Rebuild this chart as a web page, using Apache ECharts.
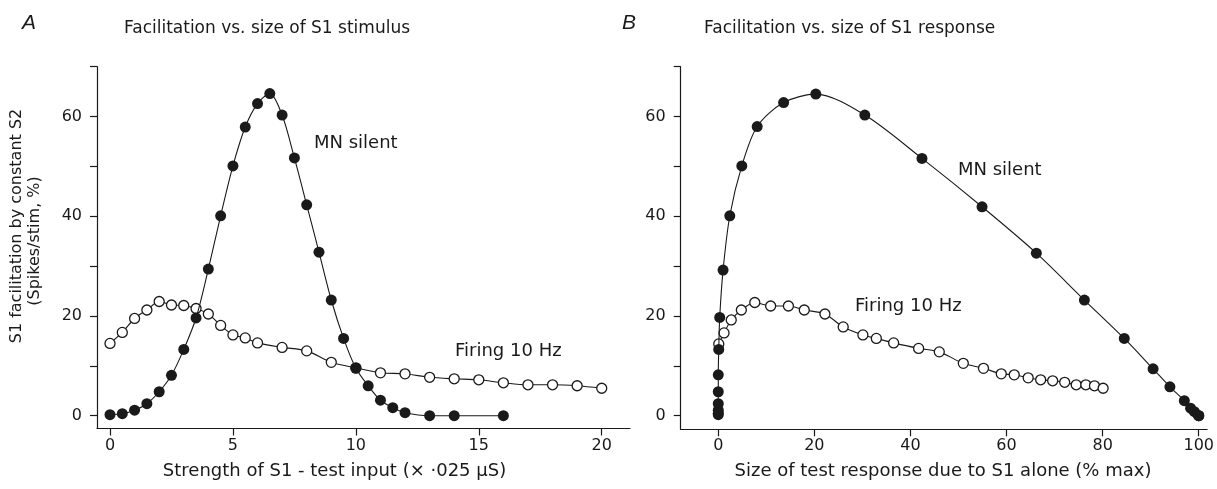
<!DOCTYPE html>
<html>
<head>
<meta charset="utf-8">
<script src="https://cdn.jsdelivr.net/npm/echarts@6/dist/echarts.min.js"></script>
<style>
  html, body { margin: 0; padding: 0; background: #fff; }
  #main { width: 1217px; height: 489px; }
</style>
</head>
<body>
<div id="main"></div>
<script>
// panel A: facilitation vs strength of S1 stimulus (x .025 uS)
var aSilentX = [0, 0.5, 1, 1.5, 2, 2.5, 3, 3.5, 4, 4.5, 5, 5.5, 6, 6.5, 7, 7.5, 8, 8.5, 9, 9.5, 10, 10.5, 11, 11.5, 12, 13, 14, 16];
var aSilentY = [0.2, 0.4, 1.1, 2.4, 4.8, 8.1, 13.3, 19.6, 29.4, 40.1, 50.1, 57.9, 62.6, 64.6, 60.3, 51.7, 42.3, 32.8, 23.2, 15.5, 9.5, 6.0, 3.1, 1.6, 0.6, 0, 0, 0];
var aFiringX = [0, 0.5, 1, 1.5, 2, 2.5, 3, 3.5, 4, 4.5, 5, 5.5, 6, 7, 8, 9, 10, 11, 12, 13, 14, 15, 16, 17, 18, 19, 20];
var aFiringY = [14.5, 16.7, 19.5, 21.2, 22.9, 22.2, 22.1, 21.5, 20.4, 18.1, 16.2, 15.6, 14.6, 13.7, 13.0, 10.7, 9.6, 8.6, 8.4, 7.7, 7.4, 7.2, 6.6, 6.2, 6.2, 6.0, 5.5];

// panel B: same facilitation vs size of S1 test response (% max)
var bSilentX = [0, 0, 0, 0, 0, 0, 0.1, 0.3, 1.0, 2.4, 4.9, 8.1, 13.6, 20.3, 30.5, 42.4, 54.9, 66.2, 76.2, 84.5, 90.5, 94.0, 97.0, 98.3, 99.1, 100, 100, 100];
var bSilentY = [0.2, 0.5, 1.1, 2.4, 4.8, 8.2, 13.3, 19.7, 29.2, 40.1, 50.1, 58.0, 62.8, 64.5, 60.3, 51.6, 41.9, 32.6, 23.2, 15.5, 9.4, 5.8, 3.0, 1.5, 0.8, 0, 0, 0];
var bFiringX = [0.1, 1.2, 2.7, 4.8, 7.6, 10.9, 14.6, 17.9, 22.2, 26.0, 30.1, 32.9, 36.5, 41.7, 46.0, 51.0, 55.2, 58.9, 61.6, 64.5, 67.1, 69.6, 72.1, 74.5, 76.5, 78.3, 80.1];
var bFiringY = [14.4, 16.6, 19.2, 21.2, 22.7, 22.0, 22.0, 21.2, 20.4, 17.8, 16.2, 15.5, 14.6, 13.5, 12.8, 10.5, 9.5, 8.4, 8.2, 7.6, 7.2, 7.0, 6.7, 6.2, 6.2, 6.0, 5.5];

var yTicks = [0, 10, 20, 30, 40, 50, 60, 70];
var yLabels = [0, 20, 40, 60];
var aXTicks = [0, 5, 10, 15, 20];
var bXTicks = [0, 20, 40, 60, 80, 100];

var FONT = 'DejaVu Sans';
var INK = '#1a1a1a';

function pairs(xs, ys) {
    return xs.map(function (x, i) { return [x, ys[i]]; });
}

function valueAxis(idx, min, max, ticks, labels, gap) {
    return {
        type: 'value', gridIndex: idx, min: min, max: max,
        splitLine: {show: false},
        axisLine: {show: true, onZero: false, lineStyle: {color: INK, width: 1.2}},
        axisTick: {show: true, length: 7, customValues: ticks, lineStyle: {color: INK, width: 1.2}},
        axisLabel: {customValues: labels, color: INK, fontFamily: FONT, fontSize: 16, margin: gap}
    };
}

function curve(idx, data, filled) {
    return {
        type: 'line', xAxisIndex: idx, yAxisIndex: idx, data: data,
        smooth: 0.3, symbol: 'circle', symbolSize: filled ? 11 : 10,
        z: filled ? 3 : 2,
        lineStyle: {color: INK, width: 1.1},
        itemStyle: {color: filled ? INK : '#fff', borderColor: INK, borderWidth: filled ? 0 : 1.3},
        emphasis: {disabled: true},
        animation: false
    };
}

function txt(x, y, s, size, opts) {
    var o = opts || {};
    return {
        type: 'text', x: x, y: y, rotation: o.rot || 0, silent: true,
        style: {
            text: s, fill: INK, fontFamily: o.family || FONT, fontSize: size,
            fontStyle: o.italic ? 'italic' : 'normal',
            align: o.align || 'left', verticalAlign: 'middle'
        }
    };
}

var chart = echarts.init(document.getElementById('main'));
chart.setOption({
    backgroundColor: '#fff',
    animation: false,
    grid: [
        {left: 97, top: 66.7, width: 533, height: 361.8},
        {left: 680.7, top: 66.7, width: 529.3, height: 362.6}
    ],
    xAxis: [
        valueAxis(0, -0.529, 21.15, aXTicks, aXTicks, 9),
        valueAxis(1, -7.82, 101.75, bXTicks, bXTicks, 9)
    ],
    yAxis: [
        valueAxis(0, -2.57, 70, yTicks, yLabels, 15),
        valueAxis(1, -2.73, 70, yTicks, yLabels, 15)
    ],
    series: [
        curve(0, pairs(aFiringX, aFiringY), false),
        curve(0, pairs(aSilentX, aSilentY), true),
        curve(1, pairs(bFiringX, bFiringY), false),
        curve(1, pairs(bSilentX, bSilentY), true)
    ],
    graphic: [
        txt(22, 23, 'A', 21, {italic: true, family: 'Liberation Sans'}),
        txt(124, 29, 'Facilitation vs. size of S1 stimulus', 17),
        txt(622, 23, 'B', 21, {italic: true, family: 'Liberation Sans'}),
        txt(704, 29, 'Facilitation vs. size of S1 response', 17),
        txt(17, 226, 'S1 facilitation by constant S2', 16, {rot: Math.PI / 2, align: 'center'}),
        txt(35, 241, '(Spikes/stim, %)', 16, {rot: Math.PI / 2, align: 'center'}),
        txt(334.5, 471, 'Strength of S1 - test input (\u00d7 \u00b7025 \u03bcS)', 18, {align: 'center'}),
        txt(943, 471, 'Size of test response due to S1 alone (% max)', 18, {align: 'center'}),
        txt(314, 143, 'MN silent', 18),
        txt(455, 351, 'Firing 10 Hz', 18),
        txt(958, 170, 'MN silent', 18),
        txt(855, 306, 'Firing 10 Hz', 18)
    ]
});
</script>
</body>
</html>
